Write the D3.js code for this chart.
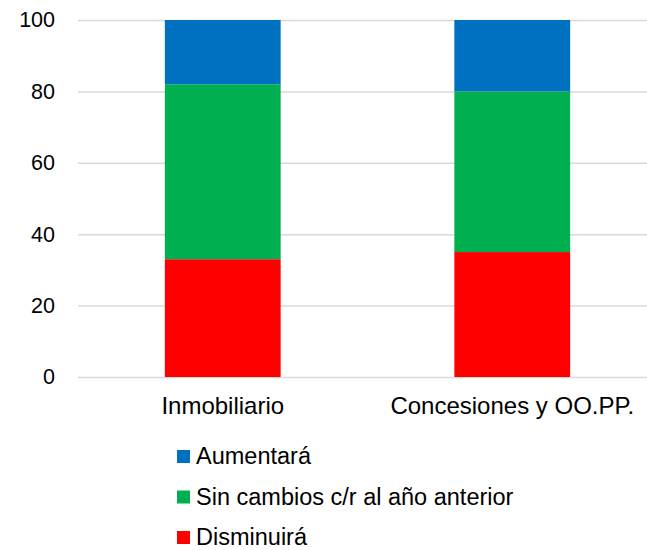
<!DOCTYPE html>
<html>

<head>
    <meta charset="utf-8">
    <script src="https://d3js.org/d3.v7.min.js"></script>
    <style type="text/css">
        body {
            margin: 0;
            background: #fff;
        }

        .tick-label {
            font-family: "Liberation Sans", Arial, sans-serif;
            font-size: 21.5px;
            fill: #000;
        }

        .cat-label {
            font-family: "Liberation Sans", Arial, sans-serif;
            font-size: 24px;
            fill: #000;
        }

        .legend-label {
            font-family: "Liberation Sans", Arial, sans-serif;
            font-size: 23.5px;
            fill: #000;
        }
    </style>
</head>

<body>
    <div id="chart"></div>

    <script>
        // data (percent of answers)
        const categories = ["Inmobiliario", "Concesiones y OO.PP."];
        const disminuira = [33, 35];
        const sinCambios = [49, 45];
        const aumentara = [18, 20];
        const yTicks = [0, 20, 40, 60, 80, 100];

        const seriesNames = ["Disminuirá", "Sin cambios c/r al año anterior", "Aumentará"];
        const seriesColors = ["#ff0000", "#00b050", "#0070c0"];
        const legendOrder = ["Aumentará", "Sin cambios c/r al año anterior", "Disminuirá"];

        const W = 647, H = 550;
        const plot = { left: 78, right: 657, top: 20, bottom: 377 };

        const svg = d3.select("#chart")
            .append("svg")
            .attr("width", W)
            .attr("height", H);

        // rows for d3.stack
        const table = categories.map((c, i) => ({
            cat: c,
            "Disminuirá": disminuira[i],
            "Sin cambios c/r al año anterior": sinCambios[i],
            "Aumentará": aumentara[i]
        }));
        const stacked = d3.stack().keys(seriesNames)(table);

        const x = d3.scaleBand()
            .domain(categories)
            .range([plot.left, plot.right])
            .padding(0);

        const y = d3.scaleLinear()
            .domain([0, 100])
            .range([plot.bottom, plot.top]);

        const color = d3.scaleOrdinal().domain(seriesNames).range(seriesColors);

        // gridlines + tick labels
        const yAxis = svg.append("g")
            .attr("transform", `translate(${plot.left},0)`)
            .call(d3.axisLeft(y).tickValues(yTicks).tickSize(-(plot.right - plot.left)).tickPadding(23));
        yAxis.select(".domain").remove();
        yAxis.selectAll(".tick line")
            .attr("stroke", "#d9d9d9")
            .attr("stroke-width", 1.5);
        yAxis.selectAll(".tick text")
            .attr("class", "tick-label")
            .attr("font-family", null)
            .attr("font-size", null)
            .attr("fill", null);

        // bars
        const barW = x.bandwidth() * 0.4;
        svg.append("g")
            .selectAll("g")
            .data(stacked)
            .join("g")
            .attr("fill", d => color(d.key))
            .selectAll("rect")
            .data(d => d)
            .join("rect")
            .attr("x", d => x(d.data.cat) + (x.bandwidth() - barW) / 2)
            .attr("y", d => y(d[1]))
            .attr("width", barW)
            .attr("height", d => y(d[0]) - y(d[1]));

        // category labels
        svg.append("g")
            .selectAll("text")
            .data(categories)
            .join("text")
            .attr("class", "cat-label")
            .attr("text-anchor", "middle")
            .attr("x", d => x(d) + x.bandwidth() / 2)
            .attr("y", 414)
            .text(d => d);

        // legend
        const legend = svg.append("g")
            .selectAll("g")
            .data(legendOrder)
            .join("g")
            .attr("transform", (d, i) => `translate(177,${450 + i * 40.5})`);
        legend.append("rect")
            .attr("width", 13)
            .attr("height", 13)
            .attr("fill", d => color(d));
        legend.append("text")
            .attr("class", "legend-label")
            .attr("x", 19)
            .attr("y", 14)
            .text(d => d);
    </script>
</body>

</html>
